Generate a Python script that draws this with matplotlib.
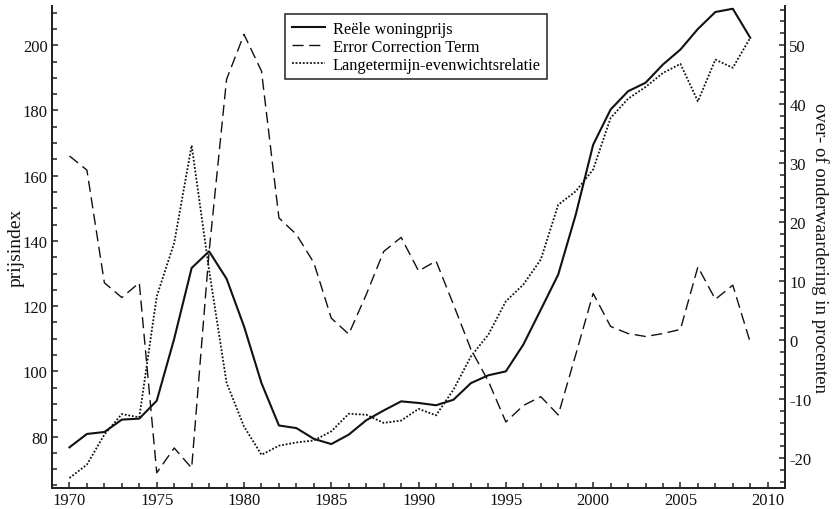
import matplotlib.pyplot as plt
from matplotlib.ticker import MultipleLocator

plt.rcParams['font.family'] = ['Liberation Serif', 'DejaVu Serif']
plt.rcParams['axes.unicode_minus'] = False

years = list(range(1970, 2010))

# Reele woningprijs (prijsindex, left axis)
woningprijs = [76.7, 80.8, 81.4, 85.2, 85.5, 91.0, 110.0, 131.7, 136.8, 128.4,
               113.8, 96.4, 83.4, 82.6, 79.3, 77.7, 80.6, 85.0, 88.0, 90.8,
               90.3, 89.6, 91.3, 96.4, 98.8, 100.0, 108.2, 118.9, 129.7, 148.0,
               169.5, 180.3, 185.9, 188.5, 194.1, 198.7, 205.0, 210.2, 211.2, 202.3]

# Langetermijn-evenwichtsrelatie (prijsindex, left axis)
evenwicht = [67.3, 71.4, 80.6, 86.9, 85.9, 123.0, 139.4, 169.3, 131.0, 96.5,
             83.1, 74.4, 77.2, 78.2, 78.8, 81.6, 87.0, 86.7, 84.2, 84.9,
             88.5, 86.5, 94.4, 104.6, 111.3, 121.5, 126.6, 134.3, 151.1, 155.2,
             161.9, 177.7, 183.6, 187.2, 191.5, 194.3, 182.8, 195.6, 193.1, 202.3]

# Error Correction Term (procenten, right axis)
ect = [31.2, 28.8, 9.7, 7.2, 9.7, -22.5, -18.3, -21.7, 15.0, 44.2,
       51.8, 45.6, 20.7, 17.9, 13.1, 3.7, 1.0, 7.7, 15.0, 17.4,
       11.7, 13.4, 6.0, -1.6, -7.0, -13.9, -11.1, -9.6, -12.7, -2.5,
       7.9, 2.3, 1.1, 0.6, 1.1, 1.8, 12.4, 6.9, 9.3, -0.4]

fig = plt.figure(figsize=(8.36, 5.1), dpi=100)
ax = fig.add_axes([0.0622, 0.041, 0.877, 0.945])
ax2 = ax.twinx()

l1, = ax.plot(years, woningprijs, color='#111111', lw=1.5, label='Reële woningprijs')
l3, = ax.plot(years, evenwicht, color='#111111', lw=1.3, linestyle=(0, (1, 1)),
              label='Langetermijn-evenwichtsrelatie')
l2, = ax2.plot(years, ect, color='#111111', lw=1.0, linestyle=(0, (8, 4)),
               label='Error Correction Term')

ax.set_xlim(1969, 2011)
ax.set_ylim(64.2, 212)
ax2.set_ylim(-25.1, 56.6)

ax.xaxis.set_major_locator(MultipleLocator(5))
ax.xaxis.set_minor_locator(MultipleLocator(1))
ax.yaxis.set_major_locator(MultipleLocator(20))
ax.yaxis.set_minor_locator(MultipleLocator(5))
ax2.yaxis.set_major_locator(MultipleLocator(10))
ax2.yaxis.set_minor_locator(MultipleLocator(2))

for a in (ax, ax2):
    a.spines['top'].set_visible(False)
    for s in a.spines.values():
        s.set_color('#222222')
        s.set_linewidth(1.3)
    a.tick_params(which='both', direction='in', colors='#222222', labelsize=12,
                  labelcolor='#111111', pad=3)
    a.tick_params(which='major', length=4.5, width=1.1)
    a.tick_params(which='minor', length=3.5, width=1.1)
ax.tick_params(axis='y', which='both', right=False)
ax2.tick_params(axis='y', which='both', left=False)

ax.set_ylabel('prijsindex', fontsize=14, color='#111111', labelpad=-1)
ax2.set_ylabel('over- of onderwaardering in procenten', fontsize=13.5,
               color='#111111', rotation=270, labelpad=12.5)

leg = ax.legend([l1, l2, l3], [l1.get_label(), l2.get_label(), l3.get_label()],
                loc='upper center', bbox_to_anchor=(0.497, 0.99), fontsize=11.8,
                frameon=True, fancybox=False, shadow=False, framealpha=1,
                labelspacing=0.12, borderpad=0.4, handlelength=2.0,
                handletextpad=0.5, borderaxespad=0.2)
leg.get_frame().set_edgecolor('#222222')
leg.get_frame().set_linewidth(1.1)

fig.savefig('out.png', dpi=100)
